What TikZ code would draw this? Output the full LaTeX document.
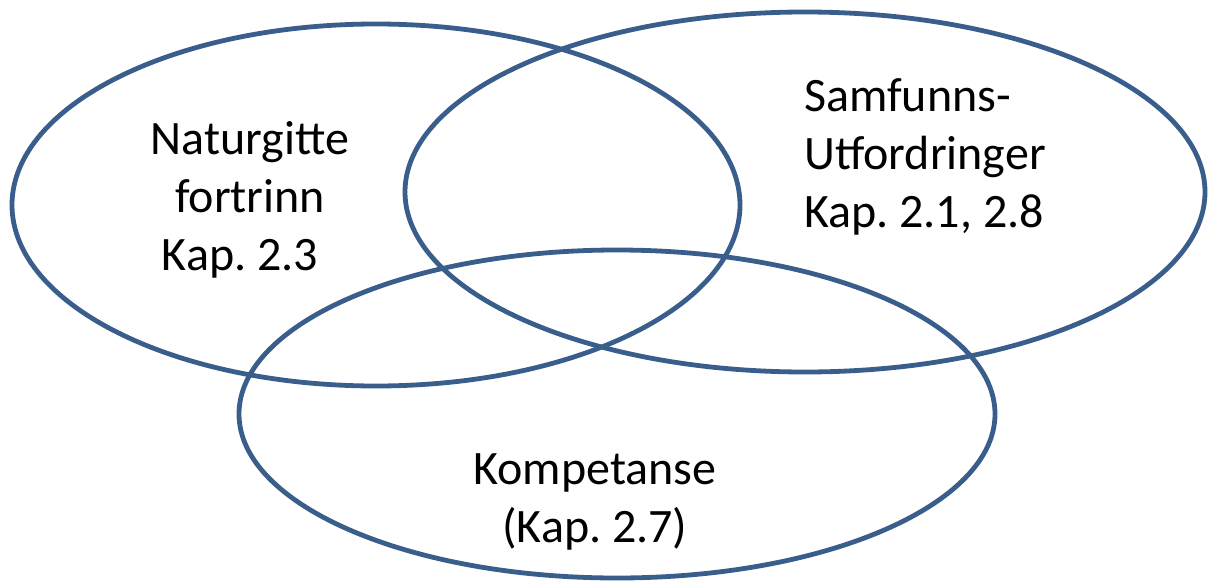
\documentclass[tikz,border=0pt]{standalone}
\usepackage{fontspec}
\setmainfont{Carlito}
\usetikzlibrary{shapes.geometric}
\definecolor{vennblue}{HTML}{3A5E8C}
\frenchspacing
\tikzset{
  venn/.style={ellipse, draw=vennblue, line width=4.8pt, inner sep=0pt, outer sep=0pt},
  lbl/.style={font=\fontsize{48}{58}\selectfont, inner sep=0pt, text=black}
}
\begin{document}
\begin{tikzpicture}[x=1pt,y=-1pt]
\useasboundingbox (0,0) rectangle (1211,584);
\node[venn, minimum width=728pt, minimum height=362pt] (A) at (376,205) {};
\node[venn, minimum width=800pt, minimum height=360pt] (B) at (805,192) {};
\node[venn, minimum width=756pt, minimum height=328pt] (C) at (617,414) {};
\node[lbl, align=center] (tA) at (250,200) {Naturgitte\\fortrinn\hspace*{20pt}\\Kap. 2.3\hspace*{20pt}};
\node[lbl, align=left, anchor=west] (tB) at (804,157) {Samfunns-\\Utfordringer\\Kap. 2.1, 2.8};
\node[lbl, align=center] (tC) at (595,502) {Kompetanse\\(Kap. 2.7)};
\end{tikzpicture}
\end{document}
